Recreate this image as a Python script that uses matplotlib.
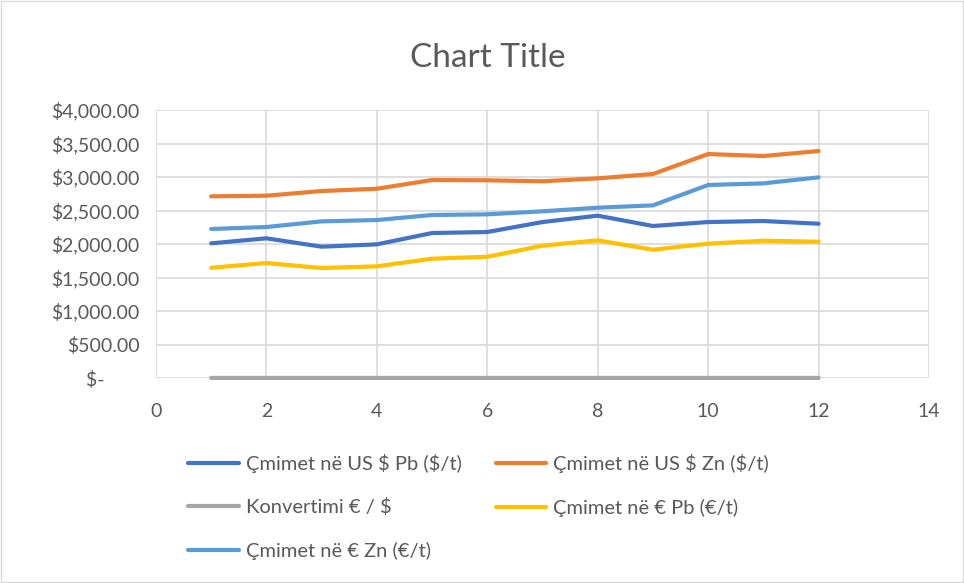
import matplotlib.pyplot as plt
from matplotlib.patches import Rectangle
from matplotlib.ticker import FuncFormatter

plt.rcParams['font.family'] = ['Lato', 'DejaVu Sans']
plt.rcParams['text.parse_math'] = False

# Data
months = [1, 2, 3, 4, 5, 6, 7, 8, 9, 10, 11, 12]
pb_usd = [2010, 2085, 1960, 1995, 2164, 2179, 2328, 2423, 2269, 2328, 2343, 2303]
zn_usd = [2712, 2721, 2791, 2825, 2955, 2951, 2936, 2980, 3045, 3343, 3313, 3388]
eur_usd = [1.22, 1.21, 1.19, 1.20, 1.21, 1.20, 1.18, 1.18, 1.18, 1.16, 1.14, 1.13]
pb_eur = [1646, 1716, 1642, 1667, 1781, 1810, 1975, 2055, 1915, 2005, 2049, 2034]
zn_eur = [2224, 2254, 2338, 2358, 2433, 2443, 2488, 2542, 2577, 2881, 2905, 2995]

labels = ['Çmimet në US $ Pb ($/t)', 'Çmimet në US $ Zn ($/t)',
          'Konvertimi € / $', 'Çmimet në € Pb (€/t)', 'Çmimet në € Zn (€/t)']
colors = ['#4472C4', '#ED7D31', '#A5A5A5', '#FFC000', '#5B9BD5']
series = [pb_usd, zn_usd, eur_usd, pb_eur, zn_eur]

fig = plt.figure(figsize=(9.64, 5.83), dpi=100)
fig.patches.append(Rectangle((0.001, 0.001), 0.998, 0.998, transform=fig.transFigure,
                             fill=False, edgecolor='#d9d9d9', linewidth=1))
ax = fig.add_axes([0.1618, 0.3516, 0.8019, 0.4597])

lines = []
for vals, lab, col in zip(series, labels, colors):
    ln, = ax.plot(months, vals, color=col, linewidth=3.0, label=lab,
                  solid_capstyle='round', clip_on=False)
    lines.append(ln)

ax.set_xlim(0, 14)
ax.set_ylim(0, 4000)
ax.set_xticks(range(0, 15, 2))
ax.set_yticks(range(0, 4001, 500))


def money(v, pos):
    if v == 0:
        return '$-       '
    return '${:,.2f}'.format(v)


ax.yaxis.set_major_formatter(FuncFormatter(money))
ax.grid(True, color='#d9d9d9', linewidth=1.2)
ax.set_axisbelow(True)
for s in ax.spines.values():
    s.set_visible(False)
ax.tick_params(length=0, labelsize=14, colors='#595959', pad=12)
ax.tick_params(axis='x', pad=18)

fig.text(0.506, 0.9, 'Chart Title', ha='center', va='center',
         fontsize=24, color='#595959')

order = [0, 2, 4, 1, 3]
fig.legend([lines[i] for i in order], [labels[i] for i in order],
           loc='upper left', bbox_to_anchor=(0.185, 0.238), ncol=2,
           frameon=False, fontsize=14.5, handlelength=2.5, handletextpad=0.35,
           columnspacing=1.7, labelspacing=1.25, borderpad=0,
           labelcolor='#595959')

plt.savefig('out.png', dpi=100)
plt.close()
